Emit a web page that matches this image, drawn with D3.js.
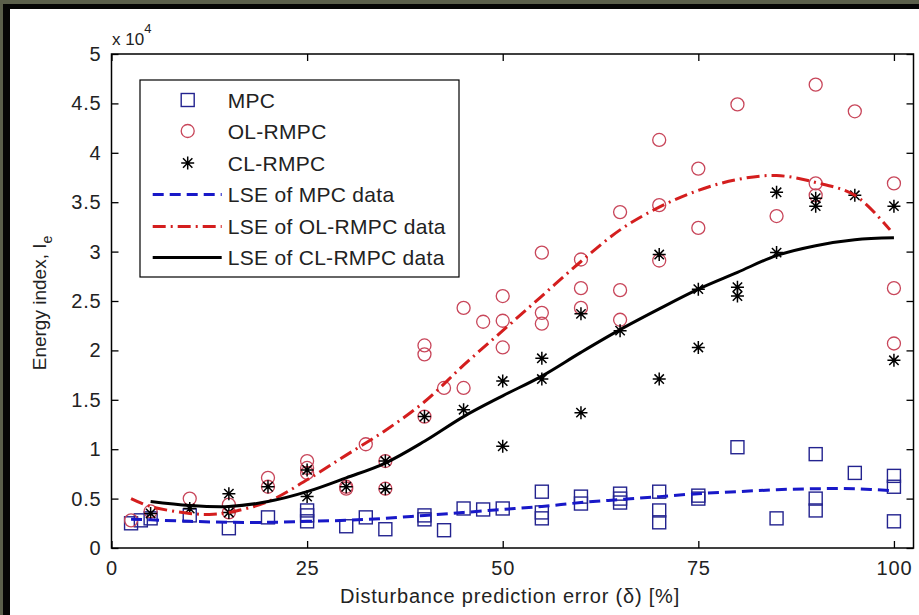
<!DOCTYPE html>
<html>
<head>
<meta charset="utf-8">
<script src="https://cdn.jsdelivr.net/npm/d3@7"></script>
<style>
  html, body { margin: 0; padding: 0; background: #5b5f4b; }
  svg { display: block; }
  text { font-family: "Liberation Sans", Arial, Helvetica, sans-serif; fill: #222; }
</style>
</head>
<body>
<svg id="chart" width="919" height="615"></svg>
<script>
// Energy index (raw values, shown on a x10^4 axis) versus disturbance prediction error (%)

// MPC samples
const mpcX = [2.5, 3.75, 5, 10, 15, 20, 25, 25, 25, 30, 32.5, 35, 40, 40, 42.5, 45, 47.5, 50,
  55, 55, 55, 60, 60, 65, 65, 65, 70, 70, 70, 75, 75, 80, 85, 90, 90, 90, 95, 100, 100, 100];
const mpcY = [2500, 2800, 3000, 3300, 2000, 3100, 3800, 3300, 2700, 2200, 3100, 1900, 3300, 2900, 1800, 4000, 3900, 4000,
  5700, 3600, 3000, 5200, 4500, 5500, 5000, 4600, 5700, 3800, 2600, 5300, 5000, 10200, 3000, 9500, 5000, 3800, 7600, 7300, 6200, 2700];

// OL-RMPC samples
const olX = [2.5, 5, 10, 15, 15, 20, 20, 25, 25, 25, 30, 30, 32.5, 35, 35, 40, 40, 40, 42.5, 45, 45, 47.5,
  50, 50, 50, 55, 55, 55, 60, 60, 60, 65, 65, 65, 70, 70, 70, 75, 75, 80, 85, 90, 90, 90, 95, 100, 100, 100];
const olY = [2800, 3700, 5000, 4400, 3600, 7100, 6200, 8800, 8100, 7600, 6200, 6000, 10500, 8800, 6000, 20500, 19600, 13300, 16200, 24300, 16200, 22900,
  25500, 23000, 20300, 29900, 23800, 22700, 29200, 26300, 24300, 34000, 26100, 23100, 41300, 34700, 29100, 38400, 32400, 44900, 33600, 46900, 36900, 35700, 44200, 36900, 26300, 20700];

// CL-RMPC samples
const clX = [5, 10, 15, 15, 20, 25, 25, 30, 35, 35, 40, 45, 50, 50, 55, 55, 60, 60, 65, 70, 70,
  75, 75, 80, 80, 85, 85, 90, 90, 95, 100, 100];
const clY = [3500, 4000, 5500, 3600, 6200, 7900, 5200, 6200, 8800, 6000, 13300, 14000, 16900, 10300, 19200, 17100, 23700, 13700, 22000, 29700, 17100,
  26200, 20300, 26400, 25500, 36000, 29900, 35400, 34600, 35700, 34600, 19000];

// Least-squares fit curves
const mpcFitX = [2.5, 5, 10, 15, 20, 25, 30, 35, 40, 45, 50, 55, 60, 65, 70, 75, 80, 85, 90, 95, 100];
const mpcFitY = [2900, 2850, 2700, 2600, 2600, 2700, 2800, 3000, 3300, 3600, 3900, 4200, 4600, 4900, 5200, 5500, 5700, 5900, 6000, 6000, 5800];

const olFitX = [2.5, 5, 10, 12.5, 15, 20, 25, 30, 35, 40, 45, 50, 55, 60, 65, 70, 75, 80, 85, 90, 95, 99.5];
const olFitY = [5000, 4200, 3500, 3400, 3600, 4700, 6900, 9400, 11900, 14800, 18500, 22000, 25500, 29000, 32200, 34500, 36200, 37300, 37700, 37000, 35700, 32200];

const clFitX = [5, 10, 15, 20, 25, 30, 35, 40, 45, 50, 55, 60, 65, 70, 75, 80, 85, 90, 95, 100];
const clFitY = [4700, 4300, 4200, 4700, 5700, 7100, 8600, 10800, 13300, 15400, 17400, 19800, 22100, 24200, 26200, 27900, 29600, 30600, 31200, 31400];

const xTicks = [0, 25, 50, 75, 100];
const yTicks = [0, 5000, 10000, 15000, 20000, 25000, 30000, 35000, 40000, 45000, 50000];

const legendLabels = ["MPC", "OL-RMPC", "CL-RMPC", "LSE of MPC data", "LSE of OL-RMPC data", "LSE of CL-RMPC data"];

const svg = d3.select("#chart");

// page frame
svg.append("rect").attr("x", 0).attr("y", 0).attr("width", 919).attr("height", 615).attr("fill", "#5b5f4b");
svg.append("rect").attr("x", 3).attr("y", 4).attr("width", 916).attr("height", 611).attr("fill", "#050505");
svg.append("rect").attr("x", 10).attr("y", 9).attr("width", 909).attr("height", 606).attr("fill", "#ffffff");

const plot = { left: 111.5, right: 913.5, top: 54, bottom: 548 };

const x = d3.scaleLinear().domain([0, 102.5]).range([plot.left, plot.right]);
const y = d3.scaleLinear().domain([0, 50000]).range([plot.bottom, plot.top]);

const COL = {
  mpcMark: "#23238f",
  mpcLine: "#1818c8",
  olMark: "#c8465a",
  olLine: "#d41e1e",
  cl: "#000000"
};

// markers
const sq = 13, cr = 6.5, st = 6.5;

function square(g, cx, cy) {
  g.append("rect").attr("x", cx - sq / 2).attr("y", cy - sq / 2).attr("width", sq).attr("height", sq)
    .attr("fill", "none").attr("stroke", COL.mpcMark).attr("stroke-width", 1.4);
}
function circle(g, cx, cy) {
  g.append("circle").attr("cx", cx).attr("cy", cy).attr("r", cr)
    .attr("fill", "none").attr("stroke", COL.olMark).attr("stroke-width", 1.3);
}
function star(g, cx, cy) {
  const d = st * 0.72;
  g.append("path")
    .attr("d", `M${cx - st},${cy}H${cx + st}M${cx},${cy - st}V${cy + st}` +
      `M${cx - d},${cy - d}L${cx + d},${cy + d}M${cx - d},${cy + d}L${cx + d},${cy - d}`)
    .attr("stroke", COL.cl).attr("stroke-width", 1.5).attr("fill", "none");
}

const marks = svg.append("g");
mpcX.forEach((v, i) => square(marks, x(v), y(mpcY[i])));
olX.forEach((v, i) => circle(marks, x(v), y(olY[i])));
clX.forEach((v, i) => star(marks, x(v), y(clY[i])));

// fit curves
const line = d3.line().x(d => x(d[0])).y(d => y(d[1])).curve(d3.curveCatmullRom.alpha(0.5));
const curves = svg.append("g").attr("fill", "none");
curves.append("path").datum(mpcFitX.map((v, i) => [v, mpcFitY[i]])).attr("d", line)
  .attr("stroke", COL.mpcLine).attr("stroke-width", 3).attr("stroke-dasharray", "11,6");
curves.append("path").datum(olFitX.map((v, i) => [v, olFitY[i]])).attr("d", line)
  .attr("stroke", COL.olLine).attr("stroke-width", 3).attr("stroke-dasharray", "13,5,2,5");
curves.append("path").datum(clFitX.map((v, i) => [v, clFitY[i]])).attr("d", line)
  .attr("stroke", COL.cl).attr("stroke-width", 3);

// axes box
svg.append("rect").attr("x", plot.left).attr("y", plot.top)
  .attr("width", plot.right - plot.left).attr("height", plot.bottom - plot.top)
  .attr("fill", "none").attr("stroke", "#000").attr("stroke-width", 1.5);

const fmtY = d => d3.format("~g")(d / 10000);

const ax = [
  svg.append("g").attr("transform", `translate(0,${plot.bottom})`)
    .call(d3.axisBottom(x).tickValues(xTicks).tickSizeInner(-7).tickSizeOuter(0).tickPadding(13)),
  svg.append("g").attr("transform", `translate(0,${plot.top})`)
    .call(d3.axisTop(x).tickValues(xTicks).tickSizeInner(-7).tickSizeOuter(0).tickFormat("")),
  svg.append("g").attr("transform", `translate(${plot.left},0)`)
    .call(d3.axisLeft(y).tickValues(yTicks).tickSizeInner(-7).tickSizeOuter(0).tickPadding(10).tickFormat(fmtY)),
  svg.append("g").attr("transform", `translate(${plot.right},0)`)
    .call(d3.axisRight(y).tickValues(yTicks).tickSizeInner(-7).tickSizeOuter(0).tickFormat(""))
];
ax.forEach(g => {
  g.select(".domain").remove();
  g.selectAll("line").attr("stroke", "#000").attr("stroke-width", 1.3);
  g.selectAll("text").attr("font-size", 20).attr("fill", "#222").attr("letter-spacing", 0.8)
    .attr("font-family", "'Liberation Sans', Arial, sans-serif");
});

// exponent label
const ex = svg.append("text").attr("x", 112).attr("y", 45).attr("font-size", 17);
ex.append("tspan").text("x 10");
ex.append("tspan").attr("dy", -12).attr("font-size", 13).text("4");

// axis titles
svg.append("text").attr("x", 510).attr("y", 603).attr("text-anchor", "middle").attr("font-size", 20)
  .attr("letter-spacing", 0.8).text("Disturbance prediction error (δ) [%]");

const yl = svg.append("text").attr("transform", "translate(46,303) rotate(-90)")
  .attr("text-anchor", "middle").attr("font-size", 19);
yl.append("tspan").text("Energy index, I");
yl.append("tspan").attr("dy", 6).attr("font-size", 14).text("e");

// legend
const lg = svg.append("g").attr("transform", "translate(140,80)");
lg.append("rect").attr("width", 319).attr("height", 197).attr("fill", "#fff")
  .attr("stroke", "#000").attr("stroke-width", 1.2);
const rowY = [20, 51, 83, 114.5, 146.5, 177.5];
square(lg, 47.7, rowY[0]);
circle(lg, 47.7, rowY[1]);
star(lg, 47.7, rowY[2]);
lg.append("line").attr("x1", 12.7).attr("x2", 81.7).attr("y1", rowY[3]).attr("y2", rowY[3])
  .attr("stroke", COL.mpcLine).attr("stroke-width", 3).attr("stroke-dasharray", "11,6");
lg.append("line").attr("x1", 12.7).attr("x2", 81.7).attr("y1", rowY[4]).attr("y2", rowY[4])
  .attr("stroke", COL.olLine).attr("stroke-width", 3).attr("stroke-dasharray", "13,5,2,5");
lg.append("line").attr("x1", 12.7).attr("x2", 81.7).attr("y1", rowY[5]).attr("y2", rowY[5])
  .attr("stroke", COL.cl).attr("stroke-width", 3);
legendLabels.forEach((t, i) => {
  lg.append("text").attr("x", 87.7).attr("y", rowY[i] + 7.5).attr("font-size", 21)
    .attr("letter-spacing", 0.3).text(t);
});
</script>
</body>
</html>
